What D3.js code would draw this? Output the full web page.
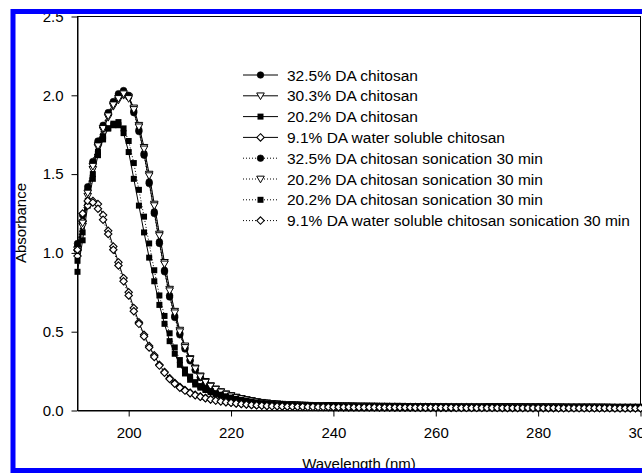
<!DOCTYPE html>
<html>
<head>
<meta charset="utf-8">
<script src="https://cdn.jsdelivr.net/npm/d3@7/dist/d3.min.js"></script>
<style>
  html, body { margin: 0; padding: 0; background: #fff; }
  svg { display: block; }
  text { font-family: "Liberation Sans", Arial, Helvetica, sans-serif; fill: #000; }
</style>
</head>
<body>
<svg id="chart" width="642" height="473"></svg>
<script>
// Wavelength grid (nm), one reading per nanometre
const wavelengths = d3.range(190, 301, 1);

const xTicks = [200, 220, 240, 260, 280, 300];
const yTicks = [0.0, 0.5, 1.0, 1.5, 2.0, 2.5];

// Absorbance readings, 190-300 nm
const da325 = [
  1.04, 1.20, 1.40, 1.57, 1.70, 1.80, 1.88, 1.95, 2.00, 2.03,
  2.00, 1.90, 1.78, 1.63, 1.45, 1.26, 1.07, 0.89, 0.73, 0.60,
  0.49, 0.40, 0.32, 0.26, 0.21, 0.175, 0.15, 0.13, 0.115, 0.10,
  0.090, 0.082, 0.074, 0.066, 0.060, 0.055, 0.050, 0.046, 0.043, 0.040,
  0.038, 0.036, 0.035, 0.034, 0.033, 0.032, 0.031, 0.031, 0.030, 0.030,
  0.029, 0.029, 0.028, 0.028, 0.028, 0.027, 0.027, 0.027, 0.027, 0.026,
  0.026, 0.026, 0.026, 0.026, 0.026, 0.025, 0.025, 0.025, 0.025, 0.025,
  0.025, 0.025, 0.025, 0.025, 0.024, 0.024, 0.024, 0.024, 0.024, 0.024,
  0.024, 0.024, 0.024, 0.023, 0.023, 0.023, 0.023, 0.023, 0.023, 0.023,
  0.023, 0.023, 0.022, 0.022, 0.022, 0.022, 0.022, 0.022, 0.022, 0.022,
  0.022, 0.022, 0.021, 0.021, 0.021, 0.021, 0.021, 0.021, 0.021, 0.021,
  0.021
];
const da303 = [
  1.00, 1.17, 1.36, 1.53, 1.67, 1.78, 1.86, 1.93, 1.97, 2.00,
  1.99, 1.92, 1.81, 1.67, 1.50, 1.31, 1.12, 0.94, 0.77, 0.63,
  0.51, 0.41, 0.33, 0.27, 0.22, 0.185, 0.158, 0.137, 0.12, 0.106,
  0.095, 0.085, 0.077, 0.069, 0.063, 0.057, 0.052, 0.048, 0.045, 0.042,
  0.040, 0.038, 0.036, 0.035, 0.034, 0.033, 0.032, 0.032, 0.031, 0.031,
  0.030, 0.030, 0.029, 0.029, 0.029, 0.028, 0.028, 0.028, 0.028, 0.027,
  0.027, 0.027, 0.027, 0.027, 0.026, 0.026, 0.026, 0.026, 0.026, 0.026,
  0.026, 0.025, 0.025, 0.025, 0.025, 0.025, 0.025, 0.025, 0.025, 0.024,
  0.024, 0.024, 0.024, 0.024, 0.024, 0.024, 0.024, 0.023, 0.023, 0.023,
  0.023, 0.023, 0.023, 0.023, 0.023, 0.022, 0.022, 0.022, 0.022, 0.022,
  0.022, 0.022, 0.022, 0.022, 0.021, 0.021, 0.021, 0.021, 0.021, 0.021,
  0.021
];
const da202 = [
  0.88, 1.08, 1.30, 1.47, 1.62, 1.72, 1.79, 1.82, 1.83, 1.76,
  1.64, 1.47, 1.30, 1.13, 0.97, 0.82, 0.67, 0.55, 0.44, 0.36,
  0.29, 0.235, 0.195, 0.165, 0.145, 0.13, 0.117, 0.105, 0.095, 0.086,
  0.078, 0.071, 0.065, 0.059, 0.054, 0.050, 0.046, 0.043, 0.040, 0.038,
  0.036, 0.034, 0.033, 0.032, 0.031, 0.030, 0.030, 0.029, 0.029, 0.028,
  0.028, 0.027, 0.027, 0.027, 0.026, 0.026, 0.026, 0.026, 0.025, 0.025,
  0.025, 0.025, 0.025, 0.024, 0.024, 0.024, 0.024, 0.024, 0.024, 0.023,
  0.023, 0.023, 0.023, 0.023, 0.023, 0.022, 0.022, 0.022, 0.022, 0.022,
  0.022, 0.022, 0.021, 0.021, 0.021, 0.021, 0.021, 0.021, 0.021, 0.021,
  0.020, 0.020, 0.020, 0.020, 0.020, 0.020, 0.020, 0.020, 0.020, 0.020,
  0.019, 0.019, 0.019, 0.019, 0.019, 0.019, 0.019, 0.019, 0.019, 0.019,
  0.019
];
const da91 = [
  0.98, 1.20, 1.30, 1.33, 1.31, 1.24, 1.14, 1.04, 0.94, 0.84,
  0.75, 0.65, 0.56, 0.48, 0.41, 0.35, 0.29, 0.245, 0.205, 0.175,
  0.15, 0.13, 0.113, 0.10, 0.089, 0.08, 0.072, 0.065, 0.059, 0.054,
  0.050, 0.046, 0.042, 0.039, 0.036, 0.034, 0.032, 0.030, 0.029, 0.028,
  0.027, 0.026, 0.025, 0.025, 0.024, 0.024, 0.023, 0.023, 0.023, 0.022,
  0.022, 0.022, 0.021, 0.021, 0.021, 0.021, 0.020, 0.020, 0.020, 0.020,
  0.020, 0.020, 0.019, 0.019, 0.019, 0.019, 0.019, 0.019, 0.019, 0.018,
  0.018, 0.018, 0.018, 0.018, 0.018, 0.018, 0.018, 0.018, 0.017, 0.017,
  0.017, 0.017, 0.017, 0.017, 0.017, 0.017, 0.017, 0.017, 0.017, 0.016,
  0.016, 0.016, 0.016, 0.016, 0.016, 0.016, 0.016, 0.016, 0.016, 0.016,
  0.016, 0.015, 0.015, 0.015, 0.015, 0.015, 0.015, 0.015, 0.015, 0.015,
  0.015
];
const da325Sonic = [
  1.06, 1.24, 1.42, 1.58, 1.71, 1.81, 1.89, 1.96, 2.01, 2.02,
  1.99, 1.89, 1.77, 1.62, 1.44, 1.25, 1.06, 0.88, 0.72, 0.59,
  0.48, 0.39, 0.315, 0.255, 0.21, 0.175, 0.15, 0.13, 0.115, 0.10,
  0.089, 0.081, 0.073, 0.066, 0.060, 0.055, 0.050, 0.046, 0.043, 0.040,
  0.038, 0.036, 0.035, 0.034, 0.033, 0.032, 0.031, 0.030, 0.030, 0.029,
  0.029, 0.028, 0.028, 0.028, 0.027, 0.027, 0.027, 0.027, 0.026, 0.026,
  0.026, 0.026, 0.026, 0.025, 0.025, 0.025, 0.025, 0.025, 0.025, 0.025,
  0.024, 0.024, 0.024, 0.024, 0.024, 0.024, 0.024, 0.024, 0.023, 0.023,
  0.023, 0.023, 0.023, 0.023, 0.023, 0.023, 0.022, 0.022, 0.022, 0.022,
  0.022, 0.022, 0.022, 0.022, 0.021, 0.021, 0.021, 0.021, 0.021, 0.021,
  0.021, 0.021, 0.021, 0.020, 0.020, 0.020, 0.020, 0.020, 0.020, 0.020,
  0.020
];
const da202SonicB = [
  1.02, 1.19, 1.38, 1.55, 1.68, 1.79, 1.87, 1.94, 1.98, 2.01,
  1.98, 1.91, 1.80, 1.66, 1.49, 1.30, 1.11, 0.93, 0.76, 0.62,
  0.50, 0.40, 0.325, 0.265, 0.215, 0.18, 0.155, 0.135, 0.118, 0.104,
  0.093, 0.084, 0.076, 0.068, 0.062, 0.056, 0.051, 0.047, 0.044, 0.041,
  0.039, 0.037, 0.036, 0.035, 0.034, 0.033, 0.032, 0.031, 0.031, 0.030,
  0.030, 0.029, 0.029, 0.029, 0.028, 0.028, 0.028, 0.027, 0.027, 0.027,
  0.027, 0.026, 0.026, 0.026, 0.026, 0.026, 0.025, 0.025, 0.025, 0.025,
  0.025, 0.025, 0.025, 0.024, 0.024, 0.024, 0.024, 0.024, 0.024, 0.024,
  0.023, 0.023, 0.023, 0.023, 0.023, 0.023, 0.023, 0.023, 0.022, 0.022,
  0.022, 0.022, 0.022, 0.022, 0.022, 0.022, 0.021, 0.021, 0.021, 0.021,
  0.021, 0.021, 0.021, 0.021, 0.021, 0.020, 0.020, 0.020, 0.020, 0.020,
  0.020
];
const da202Sonic = [
  0.95, 1.13, 1.33, 1.50, 1.64, 1.74, 1.79, 1.81, 1.81, 1.79,
  1.71, 1.57, 1.40, 1.23, 1.06, 0.89, 0.73, 0.60, 0.49, 0.40,
  0.32, 0.26, 0.215, 0.18, 0.155, 0.138, 0.123, 0.11, 0.10, 0.09,
  0.082, 0.074, 0.067, 0.061, 0.056, 0.051, 0.047, 0.044, 0.041, 0.039,
  0.037, 0.035, 0.034, 0.033, 0.032, 0.031, 0.030, 0.030, 0.029, 0.029,
  0.028, 0.028, 0.027, 0.027, 0.027, 0.026, 0.026, 0.026, 0.026, 0.025,
  0.025, 0.025, 0.025, 0.025, 0.024, 0.024, 0.024, 0.024, 0.024, 0.024,
  0.023, 0.023, 0.023, 0.023, 0.023, 0.023, 0.022, 0.022, 0.022, 0.022,
  0.022, 0.022, 0.022, 0.021, 0.021, 0.021, 0.021, 0.021, 0.021, 0.021,
  0.021, 0.020, 0.020, 0.020, 0.020, 0.020, 0.020, 0.020, 0.020, 0.020,
  0.019, 0.019, 0.019, 0.019, 0.019, 0.019, 0.019, 0.019, 0.019, 0.019,
  0.019
];
const da91Sonic = [
  1.02, 1.25, 1.33, 1.32, 1.28, 1.21, 1.12, 1.02, 0.92, 0.82,
  0.73, 0.63, 0.55, 0.47, 0.40, 0.34, 0.285, 0.24, 0.20, 0.17,
  0.145, 0.126, 0.11, 0.097, 0.087, 0.078, 0.070, 0.063, 0.058, 0.053,
  0.049, 0.045, 0.041, 0.038, 0.035, 0.033, 0.031, 0.029, 0.028, 0.027,
  0.026, 0.025, 0.025, 0.024, 0.024, 0.023, 0.023, 0.022, 0.022, 0.022,
  0.021, 0.021, 0.021, 0.021, 0.020, 0.020, 0.020, 0.020, 0.020, 0.019,
  0.019, 0.019, 0.019, 0.019, 0.019, 0.019, 0.018, 0.018, 0.018, 0.018,
  0.018, 0.018, 0.018, 0.018, 0.017, 0.017, 0.017, 0.017, 0.017, 0.017,
  0.017, 0.017, 0.017, 0.016, 0.016, 0.016, 0.016, 0.016, 0.016, 0.016,
  0.016, 0.016, 0.016, 0.016, 0.015, 0.015, 0.015, 0.015, 0.015, 0.015,
  0.015, 0.015, 0.015, 0.015, 0.015, 0.014, 0.014, 0.014, 0.014, 0.014,
  0.014
];

const seriesNames = [
  "32.5% DA chitosan",
  "30.3% DA chitosan",
  "20.2% DA chitosan",
  "9.1% DA water soluble chitosan",
  "32.5% DA chitosan sonication 30 min",
  "20.2% DA chitosan sonication 30 min",
  "20.2% DA chitosan sonication 30 min",
  "9.1% DA water soluble chitosan sonication 30 min"
];
const seriesValues = [da325, da303, da202, da91, da325Sonic, da202SonicB, da202Sonic, da91Sonic];
const seriesMarkers = ["circle", "triangleDown", "square", "diamond", "circle", "triangleDown", "square", "diamond"];
const seriesDotted = [false, false, false, false, true, true, true, true];

const svg = d3.select("#chart");

const x = d3.scaleLinear().domain([190, 300]).range([77.5, 640.5]);
const y = d3.scaleLinear().domain([0, 2.5]).range([410.5, 16.5]);

// Marker glyphs
function drawMarker(g, type, cx, cy) {
  if (type === "circle") {
    g.append("circle").attr("cx", cx).attr("cy", cy).attr("r", 3.3)
      .attr("fill", "#000").attr("stroke", "#000").attr("stroke-width", 0.6);
  } else if (type === "triangleDown") {
    const s = 3.8;
    g.append("path")
      .attr("d", `M${cx - s},${cy - s * 0.75}L${cx + s},${cy - s * 0.75}L${cx},${cy + s}Z`)
      .attr("fill", "#fff").attr("stroke", "#000").attr("stroke-width", 1);
  } else if (type === "square") {
    const s = 3.0;
    g.append("rect").attr("x", cx - s).attr("y", cy - s).attr("width", 2 * s).attr("height", 2 * s)
      .attr("fill", "#000");
  } else if (type === "diamond") {
    const s = 3.7;
    g.append("path")
      .attr("d", `M${cx},${cy - s}L${cx + s},${cy}L${cx},${cy + s}L${cx - s},${cy}Z`)
      .attr("fill", "#fff").attr("stroke", "#000").attr("stroke-width", 1.1);
  }
}

// Plot frame
svg.append("rect")
  .attr("x", x(190)).attr("y", y(2.5))
  .attr("width", x(300) - x(190)).attr("height", y(0) - y(2.5))
  .attr("fill", "none").attr("stroke", "#000").attr("stroke-width", 1);

// Axes
const yAxis = d3.axisLeft(y).tickValues(yTicks).tickFormat(d3.format(".1f"))
  .tickSize(6).tickSizeOuter(0).tickPadding(8);
const xAxis = d3.axisBottom(x).tickValues(xTicks).tickFormat(d3.format("d"))
  .tickSize(6).tickSizeOuter(0).tickPadding(11);

const gy = svg.append("g").attr("transform", `translate(${x(190)},0)`).call(yAxis);
const gx = svg.append("g").attr("transform", `translate(0,${y(0)})`).call(xAxis);
[gx, gy].forEach(g => {
  g.select(".domain").attr("stroke", "#000").attr("stroke-width", 1);
  g.selectAll(".tick line").attr("stroke", "#000").attr("stroke-width", 1);
  g.selectAll(".tick text").attr("font-size", 15).attr("fill", "#000")
    .style("font-family", "'Liberation Sans', Arial, sans-serif");
});

// Series lines
const line = d3.line().x((d, i) => x(wavelengths[i])).y(d => y(d));
const plot = svg.append("g");
seriesValues.forEach((vals, k) => {
  plot.append("path")
    .attr("d", line(vals))
    .attr("fill", "none").attr("stroke", "#000").attr("stroke-width", 1)
    .attr("stroke-dasharray", seriesDotted[k] ? "1,2" : null);
});
// Series markers
seriesValues.forEach((vals, k) => {
  const g = plot.append("g");
  vals.forEach((v, i) => drawMarker(g, seriesMarkers[k], x(wavelengths[i]), y(v)));
});

// Legend
const legend = svg.append("g");
seriesNames.forEach((name, k) => {
  const ly = 75 + k * 20.8;
  legend.append("line").attr("x1", 243).attr("x2", 278).attr("y1", ly).attr("y2", ly)
    .attr("stroke", "#000").attr("stroke-width", 1)
    .attr("stroke-dasharray", seriesDotted[k] ? "1,2" : null);
  drawMarker(legend, seriesMarkers[k], 260.5, ly);
  legend.append("text").attr("x", 287).attr("y", ly).attr("dy", "0.36em")
    .attr("font-size", 15.5).text(name);
});

// Axis titles
svg.append("text")
  .attr("transform", `translate(26,223) rotate(-90)`)
  .attr("text-anchor", "middle").attr("font-size", 15).text("Absorbance");
svg.append("text")
  .attr("x", (x(190) + x(300)) / 2).attr("y", 469)
  .attr("text-anchor", "middle").attr("font-size", 15).text("Wavelength (nm)");

// Blue outer frame
svg.append("rect")
  .attr("x", 13).attr("y", 11.5).attr("width", 720).attr("height", 459)
  .attr("fill", "none").attr("stroke", "#0000ff").attr("stroke-width", 5);
</script>
</body>
</html>
